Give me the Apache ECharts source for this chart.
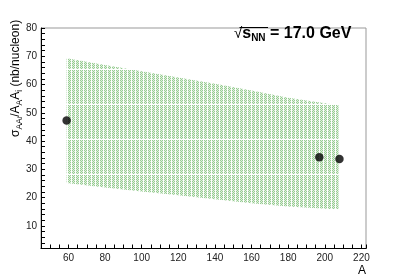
<!DOCTYPE html>
<html><head><meta charset="utf-8">
<script src="https://cdn.jsdelivr.net/npm/echarts@6/dist/echarts.min.js"></script>
<style>html,body{margin:0;padding:0;background:#fff}#c{width:407px;height:278px}</style>
</head><body><div id="c"></div>
<script>
// Band (model uncertainty) in A
var bandA     = [59, 80, 100, 120, 140, 160, 180, 207.5];
var bandUpper = [69.3, 66.9, 64.7, 62.5, 60.3, 57.9, 55.3, 52.7];
var bandLower = [25.2, 23.6, 22.2, 20.8, 19.4, 18.0, 16.9, 15.8];
// Data points
var pointA     = [59, 197, 208];
var pointSigma = [47.3, 34.3, 33.7];
// Axis tick labels
var xTickLabels = [60, 80, 100, 120, 140, 160, 180, 200, 220];
var yTickLabels = [10, 20, 30, 40, 50, 60, 70, 80];

var FONT = '"Liberation Sans", Arial, Helvetica, sans-serif';

function makePattern() {
  var c = document.createElement('canvas');
  c.width = 4; c.height = 35;
  var ctx = c.getContext('2d');
  for (var x = 0; x < 4; x++) {
    for (var y = 0; y < 35; y++) {
      if (x === 3 || y === 34) continue;
      ctx.fillStyle = ((x + y) % 2 === 0) ? '#97cc92' : '#e0f0de';
      ctx.fillRect(x, y, 1, 1);
    }
  }
  return c;
}
var patternCanvas = makePattern();

var pts = pointA.map(function (a, i) { return [a, pointSigma[i]]; });

var chart = echarts.init(document.getElementById('c'), null, {renderer: 'canvas'});
chart.setOption({
  animation: false,
  backgroundColor: '#fff',
  grid: {left: 41, right: 41, top: 28, bottom: 29.5, show: true, borderColor: '#999', borderWidth: 1},
  xAxis: {
    type: 'value', min: 45, max: 222.5, interval: 5,
    axisLine: {show: true, lineStyle: {color: '#000', width: 1}},
    axisTick: {show: true, inside: true, length: 4, lineStyle: {color: '#000'}},
    splitLine: {show: false},
    axisLabel: {
      fontFamily: FONT, fontSize: 10, color: '#222', margin: 5,
      showMinLabel: false, showMaxLabel: true,
      formatter: function (v) { return xTickLabels.indexOf(Math.round(v * 100) / 100) >= 0 ? String(v) : ''; }
    },
    name: 'A', nameLocation: 'end', nameGap: 0,
    nameTextStyle: {fontFamily: FONT, fontSize: 12, color: '#000', align: 'right', verticalAlign: 'top', padding: [16, 0, 0, 0]}
  },
  yAxis: {
    type: 'value', min: 2, max: 80, interval: 2,
    axisLine: {show: true, lineStyle: {color: '#000', width: 1}},
    axisTick: {show: true, inside: true, length: 4, lineStyle: {color: '#000'}},
    splitLine: {show: false},
    axisLabel: {
      fontFamily: FONT, fontSize: 10, color: '#222', margin: 4,
      formatter: function (v) { return yTickLabels.indexOf(Math.round(v)) >= 0 && Math.abs(v - Math.round(v)) < 1e-6 ? String(v) : ''; }
    }
  },
  series: [
    {type: 'custom', data: [[bandA[0], bandUpper[0]]], silent: true, z: 1,
     renderItem: function (params, api) {
       var poly = [];
       for (var i = 0; i < bandA.length; i++) poly.push(api.coord([bandA[i], bandUpper[i]]));
       for (var j = bandA.length - 1; j >= 0; j--) poly.push(api.coord([bandA[j], bandLower[j]]));
       return {type: 'polygon', shape: {points: poly},
               style: {fill: {image: patternCanvas, repeat: 'repeat'}, stroke: null}};
     }},
    {type: 'scatter', data: pts, symbol: 'circle', symbolSize: 8.5, itemStyle: {color: '#000'}, z: 5}
  ],
  graphic: [
    {type: 'text', rotation: Math.PI / 2, x: 7, y: 137,
     style: {
       text: '{m|σ}{s|AA}{ss|i}{m|/A}{s|A}{m|A}{s|i}{m| (nb/nucleon)}',
       rich: {
         m: {fontFamily: FONT, fontSize: 12, color: '#000', lineHeight: 17, verticalAlign: 'middle'},
         s: {fontFamily: FONT, fontSize: 8.5, color: '#000', lineHeight: 17, verticalAlign: 'bottom', padding: [6, 0, 0, 0]},
         ss: {fontFamily: FONT, fontSize: 6.5, color: '#000', lineHeight: 17, verticalAlign: 'bottom', padding: [9, 0, 0, 0]}
       }
     }},
    {type: 'text', x: 234, y: 25, z: 10,
     style: {
       text: '{r|√}{s|s}{n|NN}{t| = 17.0 GeV}',
       rich: {
         r: {fontFamily: FONT, fontSize: 15, color: '#000', lineHeight: 18},
         s: {fontFamily: FONT, fontSize: 16, fontWeight: 'bold', color: '#000', lineHeight: 18},
         n: {fontFamily: FONT, fontSize: 10, fontWeight: 'bold', color: '#000', lineHeight: 18, verticalAlign: 'bottom', padding: [5, 0, 0, 0]},
         t: {fontFamily: FONT, fontSize: 16, fontWeight: 'bold', color: '#000', lineHeight: 18}
       }
     }},
    {type: 'line', z: 10, shape: {x1: 239.5, y1: 27.5, x2: 268, y2: 27.5}, style: {stroke: '#000', lineWidth: 1}}
  ]
});
</script></body></html>
